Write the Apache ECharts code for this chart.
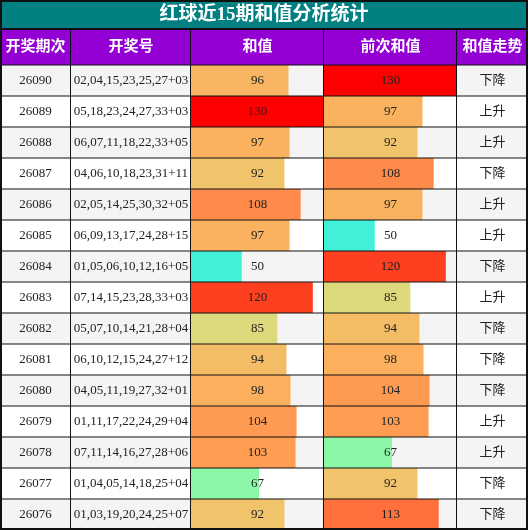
<!DOCTYPE html>
<html><head><meta charset="utf-8">
<script src="https://cdn.jsdelivr.net/npm/echarts@6/dist/echarts.min.js"></script>
<style>html,body{margin:0;padding:0;background:#fff}#chart{width:528px;height:530px}</style>
</head><body><div id="chart"></div>
<script>
const title = '红球近15期和值分析统计'
const headers = ['开奖期次', '开奖号', '和值', '前次和值', '和值走势']
const periods = ['26090','26089','26088','26087','26086','26085','26084','26083','26082','26081','26080','26079','26078','26077','26076']
const numbers = [
  '02,04,15,23,25,27+03','05,18,23,24,27,33+03','06,07,11,18,22,33+05','04,06,10,18,23,31+11',
  '02,05,14,25,30,32+05','06,09,13,17,24,28+15','01,05,06,10,12,16+05','07,14,15,23,28,33+03',
  '05,07,10,14,21,28+04','06,10,12,15,24,27+12','04,05,11,19,27,32+01','01,11,17,22,24,29+04',
  '07,11,14,16,27,28+06','01,04,05,14,18,25+04','01,03,19,20,24,25+07'
]
const sums = [96,130,97,92,108,97,50,120,85,94,98,104,103,67,92]
const prevSums = [130,97,92,108,97,50,120,85,94,98,104,103,67,92,113]
const trends = ['下降','上升','上升','下降','上升','上升','下降','上升','下降','下降','下降','上升','上升','下降','下降']

const W = 528, H = 530
const colX = [0, 71, 191, 324, 457, 528]
const titleH = 29, headTop = 29, headH = 36, rowTop = 65
const rowH = (H - rowTop) / periods.length
const font = '"Liberation Serif", "Noto Sans CJK SC", serif'

const myChart = echarts.init(document.getElementById('chart'))
const g = []
// title and header
g.push({type: 'rect', shape: {x: 0, y: 0, width: W, height: titleH}, style: {fill: '#008080'}, z: 1})
g.push({type: 'text', x: W / 2, y: titleH / 2 + 1, style: {text: title, fill: '#fff', font: 'bold 19px ' + font, align: 'center', verticalAlign: 'middle'}, z: 20})
g.push({type: 'rect', shape: {x: 0, y: headTop, width: W, height: headH}, style: {fill: '#9400D3'}, z: 1})
headers.forEach((h, i) => {
  g.push({type: 'text', x: (colX[i] + colX[i + 1]) / 2, y: headTop + headH / 2, style: {text: h, fill: '#fff', font: 'bold 15px ' + font, align: 'center', verticalAlign: 'middle'}, z: 20})
})
// rows
periods.forEach((p, r) => {
  const y = rowTop + r * rowH, cy = y + rowH / 2
  g.push({type: 'rect', shape: {x: 0, y: y, width: W, height: rowH}, style: {fill: r % 2 === 0 ? '#f4f4f4' : '#ffffff'}, z: 0, silent: true})
  const cells = [p, numbers[r], String(sums[r]), String(prevSums[r]), trends[r]]
  cells.forEach((t, i) => {
    g.push({type: 'text', x: (colX[i] + colX[i + 1]) / 2, y: cy, style: {text: t, fill: '#222', font: '13px ' + font, align: 'center', verticalAlign: 'middle'}, z: 20})
  })
  g.push({type: 'line', shape: {x1: 0, y1: y, x2: W, y2: y}, style: {stroke: '#111', lineWidth: 1}, z: 15})
})
for (let i = 1; i < colX.length - 1; i++) {
  g.push({type: 'line', shape: {x1: colX[i] - 0.5, y1: headTop, x2: colX[i] - 0.5, y2: H}, style: {stroke: '#111', lineWidth: 1}, z: 15})
}
g.push({type: 'line', shape: {x1: 0, y1: headTop, x2: W, y2: headTop}, style: {stroke: '#111', lineWidth: 2}, z: 15})
g.push({type: 'rect', shape: {x: 1, y: 1, width: W - 2, height: H - 2}, style: {fill: 'none', stroke: '#111', lineWidth: 2}, z: 16})

const grids = [
  {left: colX[2], top: rowTop, width: colX[3] - colX[2] - 1, height: H - rowTop},
  {left: colX[3], top: rowTop, width: colX[4] - colX[3] - 1, height: H - rowTop}
]
myChart.setOption({
  animation: false,
  grid: grids,
  xAxis: grids.map((_, i) => ({type: 'value', gridIndex: i, min: 0, max: 130, show: false})),
  yAxis: grids.map((_, i) => ({type: 'category', gridIndex: i, data: periods, inverse: true, show: false})),
  visualMap: {
    show: false, min: 50, max: 130, dimension: 0, seriesIndex: [0, 1],
    inRange: {color: ['#40F0D8', '#70F8B8', '#98F8A0', '#C8E888', '#EECA70', '#FFA858', '#FF8448', '#FF4020', '#FF0000']}
  },
  series: [
    {type: 'bar', xAxisIndex: 0, yAxisIndex: 0, data: sums, barWidth: '100%', z: 2},
    {type: 'bar', xAxisIndex: 1, yAxisIndex: 1, data: prevSums, barWidth: '100%', z: 2}
  ],
  graphic: g
})
</script></body></html>
